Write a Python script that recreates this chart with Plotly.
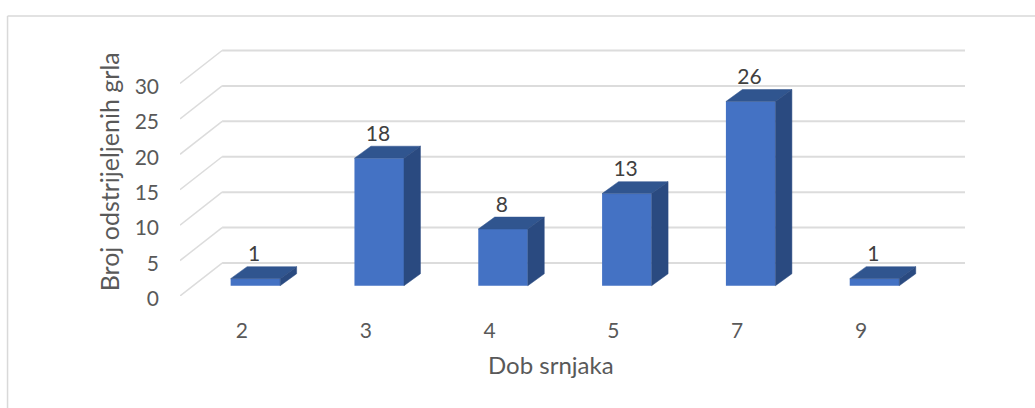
import plotly.graph_objects as go

# dob srnjaka i broj odstrijeljenih grla
ages = ['2', '3', '4', '5', '7', '9']
counts = [1, 18, 8, 13, 26, 1]
y_ticks = [0, 5, 10, 15, 20, 25, 30]

FONT = 'Lato'
FRONT = '#4472C4'
TOP = '#30558F'
SIDE = '#2A4A80'
GRID = '#DCDCDC'
TEXT = '#404040'
AXIS_TEXT = '#595959'

# pseudo 3D: pomak dubine u jedinicama osi
FLOOR_DX, FLOOR_DY = 0.34, 4.65
BAR_SHIFT_X, BAR_SHIFT_Y = 0.109, 1.45
BAR_DX, BAR_DY = 0.133, 1.69
BAR_W = 0.4

X_RANGE = [-0.5, 5.84]
Y_RANGE = [0, 35]
pos = list(range(len(ages)))
centers = [p + BAR_SHIFT_X for p in pos]

fig = go.Figure()

# prednja strana stupca
fig.add_trace(go.Bar(x=centers, y=counts, base=BAR_SHIFT_Y, width=BAR_W,
                     marker=dict(color=FRONT, line=dict(width=0)), showlegend=False))

# gornja i bocna strana
for c, v in zip(centers, counts):
    left, right = c - BAR_W / 2, c + BAR_W / 2
    top = v + BAR_SHIFT_Y
    fig.add_trace(go.Scatter(
        x=[left, right, right + BAR_DX, left + BAR_DX, left],
        y=[top, top, top + BAR_DY, top + BAR_DY, top],
        mode='lines', fill='toself', fillcolor=TOP, line=dict(width=0.5, color=TOP), showlegend=False))
    fig.add_trace(go.Scatter(
        x=[right, right + BAR_DX, right + BAR_DX, right, right],
        y=[BAR_SHIFT_Y, BAR_SHIFT_Y + BAR_DY, top + BAR_DY, top, BAR_SHIFT_Y],
        mode='lines', fill='toself', fillcolor=SIDE, line=dict(width=0.5, color=SIDE), showlegend=False))

# oznake vrijednosti
fig.add_trace(go.Scatter(
    x=[c - 0.01 for c in centers],
    y=[v + BAR_SHIFT_Y + BAR_DY for v in counts],
    mode='text', text=[str(v) for v in counts], textposition='top center',
    textfont=dict(family=FONT, size=21, color=TEXT), showlegend=False))

# mreza: dijagonala na pod i linija na straznjem zidu
shapes = []
for t in y_ticks:
    shapes.append(dict(type='line', layer='below', xref='x', yref='y',
                       x0=X_RANGE[0], y0=t, x1=X_RANGE[0] + FLOOR_DX, y1=t + FLOOR_DY,
                       line=dict(color=GRID, width=1.5)))
    shapes.append(dict(type='line', layer='below', xref='x', yref='y',
                       x0=X_RANGE[0] + FLOOR_DX, y0=t + FLOOR_DY, x1=X_RANGE[1], y1=t + FLOOR_DY,
                       line=dict(color=GRID, width=2)))

# okvir grafikona (gore i lijevo)
shapes.append(dict(type='line', xref='paper', yref='paper', x0=-0.2197, x1=1.1,
                   y0=1.129, y1=1.129, line=dict(color='#D9D9D9', width=1.5)))
shapes.append(dict(type='line', xref='paper', yref='paper', x0=-0.2197, x1=-0.2197,
                   y0=1.129, y1=-0.46, line=dict(color='#D9D9D9', width=1.5)))

fig.update_layout(
    width=1035, height=408,
    margin=dict(l=180, r=70, t=47.5, b=112),
    paper_bgcolor='white', plot_bgcolor='white',
    font=dict(family=FONT, size=21, color=AXIS_TEXT),
    showlegend=False,
    shapes=shapes,
    annotations=[
        dict(text='Dob srnjaka', xref='paper', yref='paper', x=0.4725, y=-0.277,
             xanchor='center', yanchor='middle', showarrow=False,
             font=dict(family=FONT, size=24, color=AXIS_TEXT)),
        dict(text='Broj odstrijeljenih grla', xref='paper', yref='paper', x=-0.09, y=0.5,
             xanchor='center', yanchor='middle', textangle=-90, showarrow=False,
             font=dict(family=FONT, size=25, color=AXIS_TEXT)),
    ],
)
fig.update_xaxes(range=X_RANGE, tickvals=pos, ticktext=ages, showgrid=False, zeroline=False,
                 showline=False, ticks='', ticklabelstandoff=20,
                 tickfont=dict(family=FONT, size=21, color=AXIS_TEXT))
fig.update_yaxes(range=Y_RANGE, tickvals=y_ticks, showgrid=False, zeroline=False,
                 showline=False, ticks='', ticklabelstandoff=20, ticklabelshift=3,
                 tickfont=dict(family=FONT, size=21, color=AXIS_TEXT))

# bez rubova stranice
fig.write_html("out.html", config=dict(displayModeBar=False),
               post_script="document.body.style.margin='0';")
